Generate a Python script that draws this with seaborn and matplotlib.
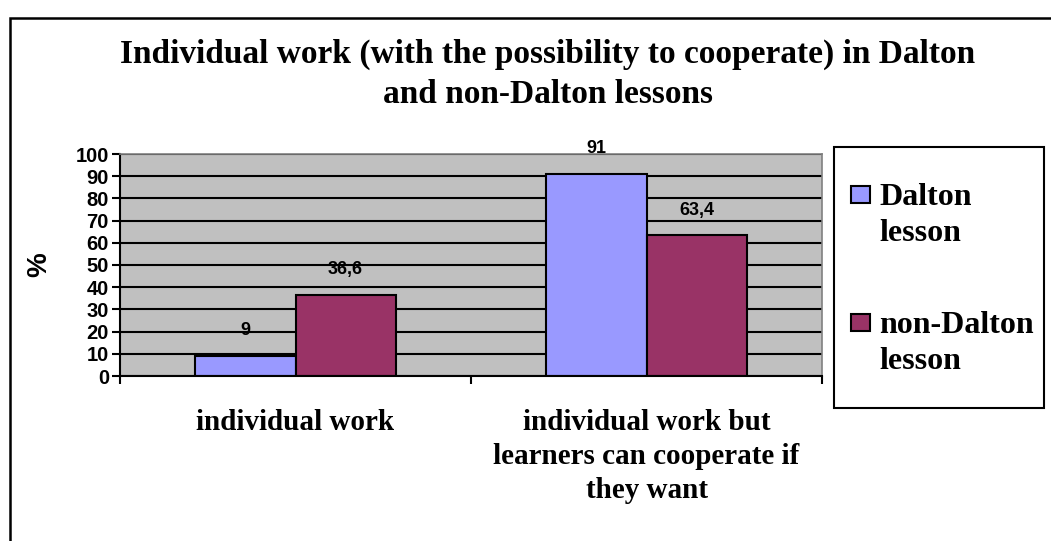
import pandas as pd
import matplotlib.pyplot as plt
import seaborn as sns
from matplotlib.patches import Rectangle

# --- Dados ---
categorias = ["individual work", "individual work but\nlearners can cooperate if\nthey want"]
series = ["Dalton lesson", "non-Dalton lesson"]
valores_dalton = [9, 91]
valores_non_dalton = [36.6, 63.4]
rotulos_dalton = ["9", "91"]
rotulos_non_dalton = ["36,6", "63,4"]
cores = ["#9999FF", "#993366"]
titulo = ["Individual work (with the possibility to cooperate) in Dalton",
          "and non-Dalton lessons"]
legenda = [["Dalton", "lesson"], ["non-Dalton", "lesson"]]

W, H = 1051, 541

df = pd.DataFrame({
    "categoria": categorias * 2,
    "serie": [series[0]] * 2 + [series[1]] * 2,
    "valor": valores_dalton + valores_non_dalton,
})

sns.set_theme(style="white")
plt.rcParams["font.family"] = ["Liberation Sans", "DejaVu Sans"]
plt.rcParams["text.color"] = "black"
plt.rcParams["axes.labelcolor"] = "black"
plt.rcParams["xtick.color"] = "black"
plt.rcParams["ytick.color"] = "black"

fig = plt.figure(figsize=(W / 100, H / 100), dpi=100)


def px(x, y):
    # converte pixels (origem no topo) em coordenadas da figura
    return x / W, 1 - y / H


# moldura externa
fig.patches.append(Rectangle((10 / W, -0.1), 1.2, (H - 18) / H + 0.1,
                             transform=fig.transFigure, fill=False,
                             edgecolor="black", linewidth=1.8))

ax = fig.add_axes([120 / W, (H - 376) / H, 702 / W, 222 / H])
ax.set_facecolor("#C0C0C0")

sns.barplot(data=df, x="categoria", y="valor", hue="serie", palette=cores,
            saturation=1, width=0.57, edgecolor="black", linewidth=1.5,
            ax=ax, legend=False)

ax.set_ylim(0, 100)
ax.set_xlim(-0.5, 1.5)
ax.set_yticks(range(0, 101, 10))
ax.yaxis.grid(True, color="black", linewidth=1.5)
ax.set_axisbelow(True)
for lado in ["top", "right"]:
    ax.spines[lado].set_color("#808080")
    ax.spines[lado].set_linewidth(1.2)
for lado in ["left", "bottom"]:
    ax.spines[lado].set_color("black")
    ax.spines[lado].set_linewidth(1.5)

ax.tick_params(axis="y", left=True, length=6, width=1.5, labelsize=14.5, pad=2)
for t in ax.get_yticklabels():
    t.set_fontweight("bold")

# rótulos das categorias e marcas entre categorias
ax.set_xticks([-0.5, 0.5, 1.5], minor=True)
ax.tick_params(axis="x", which="minor", bottom=True, length=6, width=1.5)
ax.tick_params(axis="x", which="major", bottom=False, pad=18)
ax.set_xticks([0, 1])
ax.set_xticklabels(categorias, fontsize=21, fontweight="bold",
                   family=["Liberation Serif"], linespacing=1.33, va="top")
ax.set_xlabel("")
ax.set_ylabel("%", fontsize=20, fontweight="bold", labelpad=17)

# rótulos dos valores
rotulos = [rotulos_dalton, rotulos_non_dalton]
for cont, rot in zip(ax.containers, rotulos):
    ax.bar_label(cont, labels=rot, padding=12, fontsize=13, fontweight="bold")

# título
for linha, y in zip(titulo, [63, 103]):
    fig.text(*px(548, y), linha, ha="center", va="baseline", fontsize=24,
             fontweight="bold", family=["Liberation Serif"])

# legenda
fig.patches.append(Rectangle(px(834, 408), 210 / W, 261 / H,
                             transform=fig.transFigure, fill=True, facecolor="white",
                             edgecolor="black", linewidth=1.5))
for (l1, l2), cor, y0 in zip(legenda, cores, [205, 333]):
    fig.patches.append(Rectangle(px(851, y0 - 2), 19 / W, 17 / H,
                                 transform=fig.transFigure, facecolor=cor,
                                 edgecolor="black", linewidth=1.5))
    fig.text(*px(879, y0), l1, ha="left", va="baseline", fontsize=23,
             fontweight="bold", family=["Liberation Serif"])
    fig.text(*px(879, y0 + 36), l2, ha="left", va="baseline", fontsize=23,
             fontweight="bold", family=["Liberation Serif"])

fig.savefig("out.png", dpi=100)
